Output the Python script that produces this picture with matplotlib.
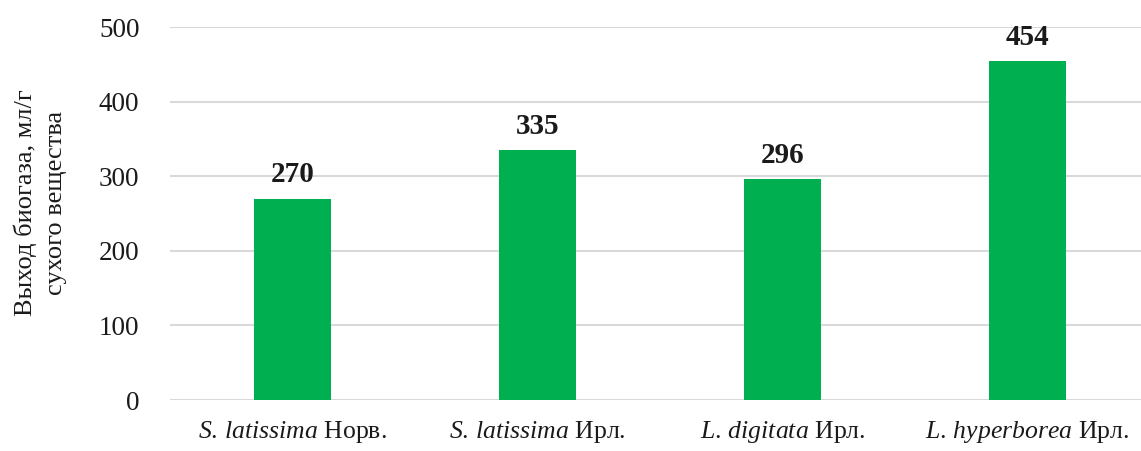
import matplotlib
matplotlib.use("Agg")
import matplotlib.pyplot as plt

# data
species = ['S.\\,latissima', 'S.\\,latissima', 'L.\\,digitata', 'L.\\,hyperborea']
regions = ['Норв.', 'Ирл.', 'Ирл.', 'Ирл.']
biogas = [270, 335, 296, 454]
yticks = [0, 100, 200, 300, 400, 500]

plt.rcParams['font.family'] = ['Liberation Serif', 'DejaVu Serif']
plt.rcParams['mathtext.fontset'] = 'custom'
plt.rcParams['mathtext.rm'] = 'Liberation Serif'
plt.rcParams['mathtext.it'] = 'Liberation Serif:italic'

fig = plt.figure(figsize=(11.41, 4.51), dpi=100)
ax = fig.add_axes([170 / 1141, 1 - 400 / 451, 971 / 1141, 373 / 451])

x = range(len(biogas))
bars = ax.bar(x, biogas, width=0.314, color='#00B050', zorder=3)
for b, v in zip(bars, biogas):
    ax.text(b.get_x() + b.get_width() / 2, v + 14, str(v), ha='center', va='bottom',
            fontsize=21, fontweight='bold', color='#1a1a1a')

ax.set_xlim(-0.5, 3.5 - 9 / 245)
ax.set_ylim(0, 500)
ax.set_yticks(yticks)
ax.yaxis.grid(True, color='#D9D9D9', linewidth=1.5, zorder=0)
ax.set_xticks(list(x))
ax.set_xticklabels(['$\\mathit{' + s + '}$ ' + r for s, r in zip(species, regions)])
ax.tick_params(axis='y', length=0, labelsize=19.5, colors='#1a1a1a', pad=22)
ax.tick_params(axis='x', length=0, labelsize=18.5, colors='#1a1a1a', pad=14)
for sp in ax.spines.values():
    sp.set_visible(False)

fig.text(40 / 1141, 1 - 203 / 451, 'Выход биогаза, мл/г\nсухого вещества', rotation=90,
         ha='center', va='center', fontsize=19, color='#1a1a1a', linespacing=1.45,
         multialignment='center')

fig.savefig('out.png', dpi=100)
